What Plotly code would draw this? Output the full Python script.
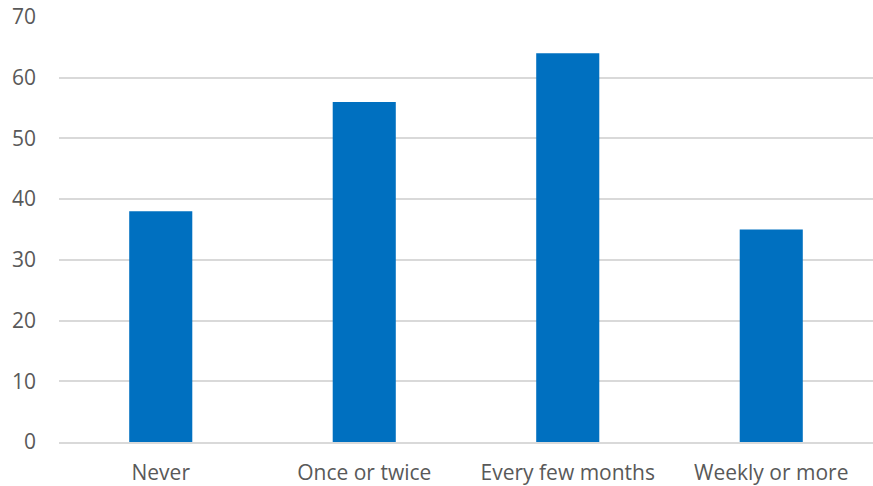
import plotly.graph_objects as go

categories = ["Never", "Once or twice", "Every few months", "Weekly or more"]
values = [38, 56, 64, 35]
y_ticks = [0, 10, 20, 30, 40, 50, 60, 70]

fig = go.Figure(go.Bar(x=categories, y=values, marker=dict(color="#0070C0", line=dict(width=0)), width=0.31))

fig.update_layout(
    width=873, height=486,
    margin=dict(l=59, r=0, t=16, b=44, autoexpand=False),
    plot_bgcolor="white", paper_bgcolor="white",
    font=dict(family="Open Sans", size=21, color="#595959"),
    showlegend=False,
    xaxis=dict(showgrid=False, showline=True, linecolor="#D9D9D9", linewidth=1.5,
               ticks="", ticklabelstandoff=11, automargin=False),
    yaxis=dict(range=[0, 70.15], tickvals=y_ticks, showgrid=True, gridcolor="#D9D9D9", gridwidth=1.5,
               zeroline=False, showline=False, ticks="", ticklabelstandoff=22, automargin=False,
               ticklabeloverflow="allow"),
)

# remove the page's default body margin so the figure fills the window exactly
fig.write_html("out.html", config={"displayModeBar": False},
               post_script="document.body.style.margin='0';")
